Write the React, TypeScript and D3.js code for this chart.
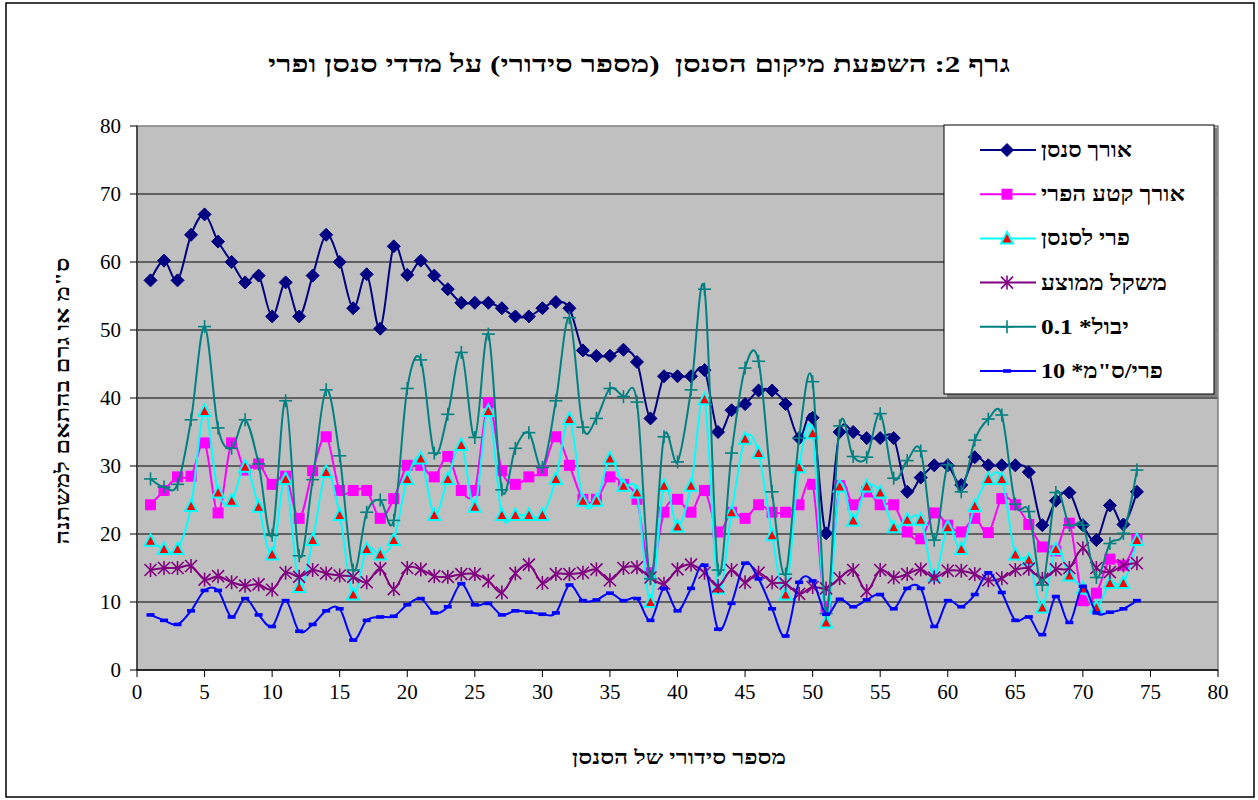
import React from "react";
import * as d3 from "d3";

const xTicks = [0, 5, 10, 15, 20, 25, 30, 35, 40, 45, 50, 55, 60, 65, 70, 75, 80];
const yTicks = [0, 10, 20, 30, 40, 50, 60, 70, 80];

const sensenLen = [57.3, 60.2, 57.3, 64, 67, 63, 60, 57, 58, 52, 57, 52, 58, 64, 60, 53.2, 58.2, 50.2, 62.3, 58.1, 60.2, 58, 56, 54, 54, 54, 53.2, 52, 52, 53.2, 54.1, 53.2, 47, 46.2, 46.2, 47.1, 45.3, 37, 43.2, 43.2, 43.2, 44.1, 35, 38.2, 39.1, 41.1, 41.1, 39.1, 34.1, 37.1, 20.1, 35, 35, 34.1, 34.1, 34.1, 26.2, 28.3, 30.1, 30.1, 27.2, 31.3, 30.1, 30.1, 30.1, 29.1, 21.3, 24.9, 26.1, 21.3, 19.1, 24.2, 21.4, 26.2];
const fruitLen = [24.3, 26.4, 28.4, 28.5, 33.4, 23.1, 33.4, 29.4, 30.3, 27.3, 28.5, 22.3, 29.3, 34.3, 26.4, 26.4, 26.4, 22.3, 25.2, 30.1, 30.1, 28.4, 31.4, 26.4, 26.4, 39.3, 29.3, 27.3, 28.4, 29.3, 34.3, 30.1, 25.1, 25.1, 28.4, 27.3, 25.1, 14.3, 23.2, 25.1, 23.2, 26.4, 20.3, 23.2, 22.3, 24.3, 23.2, 23.2, 24.3, 27.3, 9.3, 27.1, 24.3, 26.2, 24.3, 24.3, 20.3, 19.3, 23.1, 21.3, 20.3, 22.3, 20.2, 25.2, 24.3, 21.4, 18.1, 17.5, 21.6, 10.2, 11.3, 16.3, 15.4, 19.2];
const fruitPerSensen = [19, 17.8, 17.8, 24.1, 38.1, 26.1, 24.9, 29.9, 24, 17, 28.1, 12.2, 19.1, 29.1, 22.8, 11.1, 17.8, 17, 19.1, 28.1, 31.1, 22.8, 28.1, 33.1, 24, 38.1, 22.8, 22.8, 22.8, 22.8, 28.1, 36.9, 24.9, 24.9, 31.1, 27.1, 26.1, 10, 27.1, 21.1, 27.1, 39.8, 12, 23.2, 34, 31.9, 19.8, 11.1, 29.8, 34.8, 7, 27, 22, 27, 26.1, 21, 22.1, 22.1, 13.8, 21, 17.8, 24.1, 28.1, 28.1, 17, 16.2, 9.2, 17.8, 13.9, 12, 9.2, 12.8, 12.8, 19.1];
const avgWeight = [14.7, 15, 15, 15.3, 13.3, 13.8, 12.9, 12.4, 12.6, 11.8, 14.3, 13.7, 14.7, 14.2, 13.9, 13.7, 12.9, 14.9, 11.9, 15, 14.8, 13.8, 13.7, 14.1, 14.1, 13.1, 11.4, 14.2, 15.5, 12.8, 14.1, 14.1, 14.3, 14.8, 13.2, 15, 15.1, 13.6, 12.7, 14.8, 15.5, 14.3, 12.3, 14.7, 12.9, 14.3, 12.9, 12.7, 11.2, 12.2, 12, 13.5, 14.7, 11.6, 14.7, 13.6, 14.1, 14.8, 13.6, 14.6, 14.6, 14.1, 13.2, 13.5, 14.7, 14.9, 13.4, 14.8, 15, 17.9, 15, 14.4, 15.4, 15.7];
const yieldTenth = [28.1, 26.9, 27.3, 36.8, 50.5, 35.6, 32.6, 36.8, 30.3, 19.8, 39.6, 16.8, 28, 41.2, 31.5, 14.7, 23.2, 25, 22, 41.4, 45.6, 31.9, 37.6, 46.7, 34.2, 49.4, 26.5, 32.6, 34.9, 29.8, 39.6, 51.8, 35.7, 37, 41.4, 40.2, 39.4, 13.4, 34.3, 30.6, 41.2, 56, 14.7, 31.9, 44.4, 45.4, 26.2, 14.1, 34.1, 42.4, 8.3, 35.9, 31.4, 31.3, 37.7, 28.2, 30.8, 32.2, 19.1, 30.2, 26.2, 33.8, 36.9, 37.5, 24.4, 23.3, 12.5, 26.1, 21.3, 21.3, 13.6, 18.6, 20.1, 29.4];
const fruitPerCm10 = [8.1, 7.3, 6.7, 8.7, 11.7, 11.7, 7.8, 10.5, 8.1, 6.4, 10.2, 5.7, 6.7, 8.7, 9, 4.4, 7.3, 7.8, 7.9, 9.6, 10.5, 8.4, 9.3, 12.7, 9.6, 9.8, 8.1, 8.7, 8.5, 8.2, 8.4, 12.5, 10.2, 10.3, 11.3, 10.2, 10.5, 7.3, 12, 8.7, 12, 15.4, 6, 9.8, 15.7, 13.4, 9, 5, 12.9, 13.1, 8.2, 10.4, 9.3, 10.3, 11.1, 9, 12, 12, 6.4, 10.2, 9.3, 11.1, 14.3, 11.4, 7.3, 7.8, 5.2, 10.8, 7, 12.3, 8.4, 8.5, 9, 10.2];

const seriesNames = ["אורך סנסן", "אורך קטע הפרי", "פרי לסנסן", "משקל ממוצע", "יבול* 0.1", "פרי/ס\"מ* 10"];
const title = "גרף 2: השפעת מיקום הסנסן  (מספר סידורי) על מדדי סנסן ופרי";
const yTitle = "ס\"מ או גרם בהתאם למשתנה";
const xTitle = "מספר סידורי של הסנסן";

type MarkerKind = "diamond" | "square" | "triangle" | "star" | "plus" | "dash";
const series: { name: string; values: number[]; color: string; marker: MarkerKind; labelWidth: number }[] = [
  { name: seriesNames[0], values: sensenLen, color: "#000080", marker: "diamond", labelWidth: 91 },
  { name: seriesNames[1], values: fruitLen, color: "#FF00FF", marker: "square", labelWidth: 144 },
  { name: seriesNames[2], values: fruitPerSensen, color: "#00FFFF", marker: "triangle", labelWidth: 89 },
  { name: seriesNames[3], values: avgWeight, color: "#800080", marker: "star", labelWidth: 126 },
  { name: seriesNames[4], values: yieldTenth, color: "#008080", marker: "plus", labelWidth: 88 },
  { name: seriesNames[5], values: fruitPerCm10, color: "#0000FF", marker: "dash", labelWidth: 122 },
];

const FONT = "'Liberation Serif', 'Times New Roman', serif";

function Marker({ kind, x, y, color }: { kind: MarkerKind; x: number; y: number; color: string }) {
  switch (kind) {
    case "diamond":
      return <path d={`M${x},${y - 6.5}L${x + 6.5},${y}L${x},${y + 6.5}L${x - 6.5},${y}Z`} fill={color} stroke={color} strokeWidth={1} />;
    case "square":
      return <rect x={x - 5.5} y={y - 5.5} width={11} height={11} fill={color} />;
    case "triangle":
      return <path d={`M${x},${y - 6.5}L${x + 6},${y + 5}L${x - 6},${y + 5}Z`} fill="#FF0000" stroke="#00FFFF" strokeWidth={2} />;
    case "star":
      return (
        <g stroke={color} strokeWidth={1.6}>
          <line x1={x - 6} y1={y - 6} x2={x + 6} y2={y + 6} />
          <line x1={x - 6} y1={y + 6} x2={x + 6} y2={y - 6} />
          <line x1={x} y1={y - 7} x2={x} y2={y + 7} />
        </g>
      );
    case "plus":
      return (
        <g stroke={color} strokeWidth={1.6}>
          <line x1={x - 6.5} y1={y} x2={x + 6.5} y2={y} />
          <line x1={x} y1={y - 6.5} x2={x} y2={y + 6.5} />
        </g>
      );
    case "dash":
      return <rect x={x - 4} y={y - 1.8} width={8} height={3.6} fill={color} />;
  }
}

export default function App() {
  const W = 1258, H = 800;
  const left = 137, right = 1218, top = 126, bottom = 670;
  const x = d3.scaleLinear().domain([0, 80]).range([left, right]);
  const y = d3.scaleLinear().domain([0, 80]).range([bottom, top]);
  const line = d3
    .line<number>()
    .x((_, i) => x(i + 1))
    .y((d) => y(d))
    .curve(d3.curveCardinal.tension(0));

  const legX = 944, legY = 125, legW = 270, legH = 269;
  const rowY = (i: number) => 150 + i * 44.2;

  return (
    <svg width={W} height={H} style={{ position: "absolute", left: 0, top: 0, background: "#fff" }}>
      <rect x={6} y={3} width={1248} height={794} fill="#fff" stroke="#000" strokeWidth={1.5} />
      <text x={639} y={72} textAnchor="middle" direction="rtl" fontFamily={FONT} fontSize={24} fontWeight="bold"
        style={{ whiteSpace: "pre" }} textLength={742} lengthAdjust="spacingAndGlyphs">{title}</text>

      {/* plot area */}
      <rect x={left} y={top} width={right - left} height={bottom - top} fill="#C0C0C0" />
      {yTicks.filter((t) => t > 0 && t < 80).map((t) => (
        <line key={"g" + t} x1={left} x2={right} y1={y(t)} y2={y(t)} stroke="#000" strokeWidth={1} />
      ))}
      <rect x={left} y={top} width={right - left} height={bottom - top} fill="none" stroke="#808080" strokeWidth={1.5} />
      <line x1={left} x2={left} y1={top} y2={bottom} stroke="#000" strokeWidth={1} />
      <line x1={left} x2={right} y1={bottom} y2={bottom} stroke="#000" strokeWidth={1.5} />

      {yTicks.map((t) => (
        <g key={"y" + t}>
          <line x1={left - 7} x2={left} y1={y(t)} y2={y(t)} stroke="#000" />
          <text x={left - 16} y={y(t) + 7} textAnchor="end" fontFamily={FONT} fontSize={21}>{t}</text>
        </g>
      ))}
      {xTicks.map((t) => (
        <g key={"x" + t}>
          <line x1={x(t)} x2={x(t)} y1={bottom} y2={bottom + 7} stroke="#000" />
          <text x={x(t)} y={699} textAnchor="middle" fontFamily={FONT} fontSize={21}>{t}</text>
        </g>
      ))}

      <text x={679} y={764} textAnchor="middle" direction="rtl" fontFamily={FONT} fontSize={19} fontWeight="bold"
        textLength={214} lengthAdjust="spacingAndGlyphs">{xTitle}</text>
      <text transform={`translate(69,401) rotate(-90)`} textAnchor="middle" direction="rtl" fontFamily={FONT} fontSize={19} fontWeight="bold"
        textLength={287} lengthAdjust="spacingAndGlyphs">{yTitle}</text>

      {series.map((s) => (
        <g key={s.name}>
          <path d={line(s.values) || ""} fill="none" stroke={s.color} strokeWidth={2} />
          {s.values.map((v, i) => (
            <Marker key={i} kind={s.marker} x={x(i + 1)} y={y(v)} color={s.color} />
          ))}
        </g>
      ))}

      {/* legend */}
      <rect x={legX + 3} y={legY + 3} width={legW} height={legH} fill="#808080" />
      <rect x={legX} y={legY} width={legW} height={legH} fill="#fff" stroke="#000" strokeWidth={1} />
      {series.map((s, i) => (
        <g key={"l" + i}>
          <line x1={980} x2={1036} y1={rowY(i)} y2={rowY(i)} stroke={s.color} strokeWidth={2} />
          <Marker kind={s.marker} x={1007} y={rowY(i)} color={s.color} />
          <text x={1041} y={rowY(i) + 7} textAnchor="end" direction="rtl" fontFamily={FONT} fontSize={21} fontWeight="bold"
            textLength={s.labelWidth} lengthAdjust="spacingAndGlyphs">{s.name}</text>
        </g>
      ))}
    </svg>
  );
}
